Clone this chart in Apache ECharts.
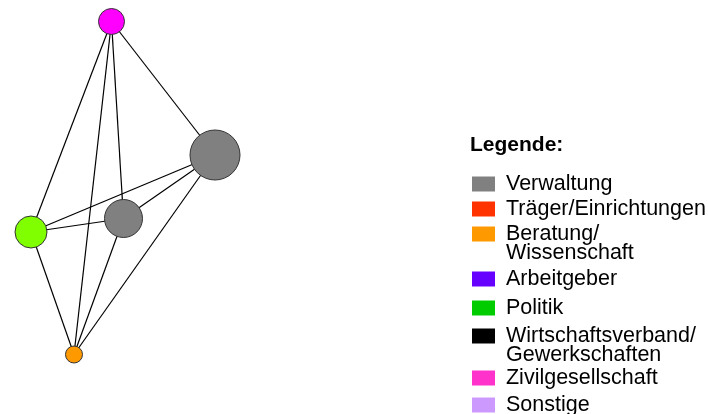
<!DOCTYPE html>
<html>
<head>
<meta charset="utf-8">
<script src="https://cdn.jsdelivr.net/npm/echarts@6/dist/echarts.min.js"></script>
<style>
    html, body { margin: 0; padding: 0; background: #fff; }
    #chart { width: 708px; height: 414px; }
</style>
</head>
<body>
<div id="chart"></div>
<script>
    // legend categories
    var categories = ['Verwaltung', 'Träger/Einrichtungen', 'Beratung/\nWissenschaft', 'Arbeitgeber',
        'Politik', 'Wirtschaftsverband/\nGewerkschaften', 'Zivilgesellschaft', 'Sonstige'];
    var categoryColors = ['#808080', '#ff3300', '#ff9900', '#6600ff', '#00cc00', '#000000', '#ff33cc', '#cc99ff'];

    // nodes (position in layout units, size, category, fill)
    var nodeNames = ['A', 'B', 'C', 'D', 'E'];
    var nodeX = [111.5, 215, 123.5, 31, 74];
    var nodeY = [21.5, 155, 218.5, 232, 354.5];
    var nodeSize = [26, 50, 38, 32, 17];
    var nodeCategory = [6, 0, 0, 4, 2];
    var nodeColors = ['#ff00ff', '#808080', '#808080', '#80ff00', '#ff9900'];

    // edges
    var links = [[0, 1], [0, 2], [0, 3], [0, 4], [1, 2], [1, 3], [1, 4], [2, 3], [2, 4], [3, 4]];

    // legend layout (icon tops)
    var legendTops = [175, 200, 225, 270, 299, 327, 369, 396];

    var chart = echarts.init(document.getElementById('chart'), null, { renderer: 'canvas' });

    var FONT = '"Liberation Sans", Arial, sans-serif';
    var LH = 19;

    var legends = categories.map(function (name, i) {
        var twoLine = name.indexOf('\n') >= 0;
        return {
            data: [{ name: name, icon: 'rect' }],
            orient: 'vertical',
            left: 472,
            top: legendTops[i] - (twoLine ? 21 : 2),
            padding: 0,
            itemWidth: 23,
            itemHeight: 15,
            itemGap: 0,
            itemStyle: { borderWidth: 0 },
            selectedMode: false,
            // leading space widens the gap to the icon; blank first line
            // keeps the first text line level with the icon
            formatter: function (n) {
                var txt = n.split('\n').map(function (s) { return ' ' + s; }).join('\n');
                return twoLine ? '\n' + txt : txt;
            },
            textStyle: {
                fontFamily: FONT,
                fontSize: 21.5,
                lineHeight: LH,
                color: '#000'
            }
        };
    });

    var option = {
        animation: false,
        title: {
            text: 'Legende:',
            left: 470,
            top: 135,
            padding: 0,
            textStyle: { fontFamily: FONT, fontSize: 21, fontWeight: 'bold', color: '#000' }
        },
        legend: legends,
        grid: { left: 0, right: 0, top: 0, bottom: 0 },
        xAxis: { type: 'value', min: 0, max: 708, show: false },
        yAxis: { type: 'value', min: 0, max: 414, inverse: true, show: false },
        series: [
            {
                type: 'graph',
                coordinateSystem: 'cartesian2d',
                layout: 'none',
                categories: categories.map(function (c, i) {
                    return { name: c, itemStyle: { color: categoryColors[i] } };
                }),
                data: nodeNames.map(function (n, i) {
                    return {
                        name: n,
                        value: [nodeX[i], nodeY[i]],
                        symbolSize: nodeSize[i],
                        category: nodeCategory[i],
                        itemStyle: { color: nodeColors[i], borderColor: '#333', borderWidth: 1 }
                    };
                }),
                links: links.map(function (l) {
                    return { source: l[0], target: l[1] };
                }),
                label: { show: false },
                lineStyle: { color: '#000', width: 1.2, opacity: 1, curveness: 0 },
                emphasis: { disabled: true }
            }
        ]
    };
    chart.setOption(option);
</script>
</body>
</html>
